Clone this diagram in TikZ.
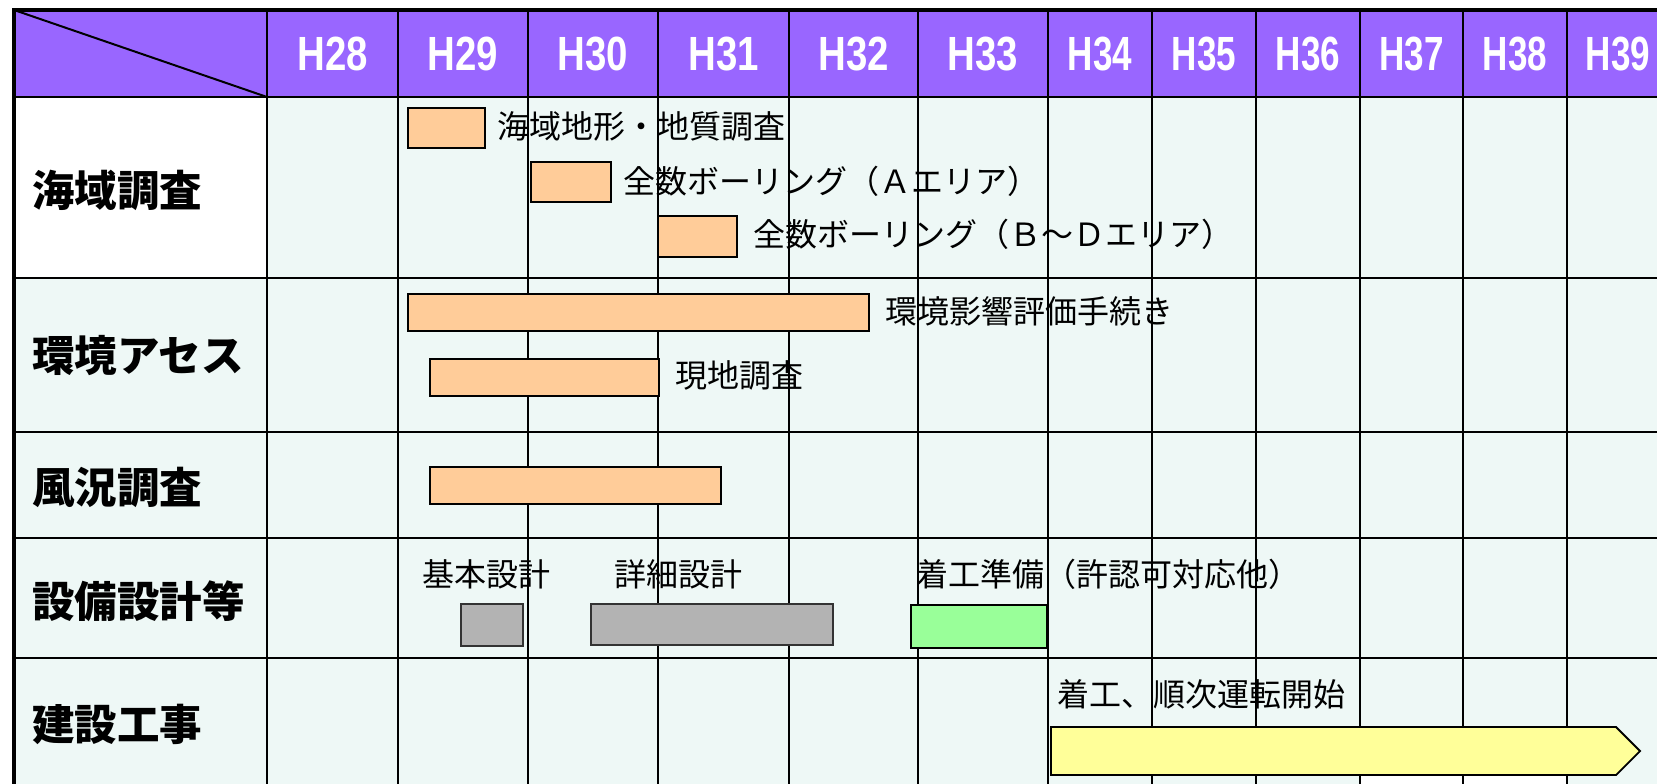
\documentclass[tikz,border=0pt]{standalone}
\usepackage{fontspec}
\newfontfamily\jp{Noto Sans CJK JP}
\newfontfamily\hd{Liberation Sans}
\definecolor{hdr}{RGB}{153,102,255}
\definecolor{cellc}{RGB}{238,248,246}
\definecolor{obarc}{RGB}{255,204,153}
\definecolor{gbarc}{RGB}{179,179,179}
\definecolor{grnc}{RGB}{153,255,153}
\definecolor{ylwc}{RGB}{255,255,153}
\tikzset{
  gridline/.style={draw=black, line width=2pt},
  hlab/.style={text=white, font=\hd\bfseries\fontsize{48}{48}\selectfont, inner sep=0pt, anchor=center},
  rlab/.style={text=black, font=\jp\bfseries\fontsize{42.5}{42.5}\selectfont, inner sep=0pt, anchor=west},
  blab/.style={text=black, font=\jp\fontsize{32}{32}\selectfont, inner sep=0pt, anchor=west},
  obar/.style={draw=black, line width=1.8pt, fill=obarc},
  gbar/.style={draw=black!80, line width=1.6pt, fill=gbarc},
  grbar/.style={draw=black, line width=1.8pt, fill=grnc},
  ybar/.style={draw=black, line width=1.8pt, fill=ylwc},
}
\begin{document}
\begin{tikzpicture}[x=1pt,y=-1pt]
\useasboundingbox (0,0) rectangle (1657,784);
\fill[white] (0,0) rectangle (1657,784);
% backgrounds
\fill[hdr] (14,10) rectangle (1657,97);
\fill[cellc] (14,97) rectangle (1657,784);
\fill[white] (14,97) rectangle (267,278);
\fill[white] (1360,775) rectangle (1567,784);
% grid
\foreach \x in {267,398,528,658,789,918,1048,1152,1256,1360,1463,1567}
  \draw[gridline] (\x,10) -- (\x,784);
\foreach \y in {97,278,432,538,658}
  \draw[gridline] (14,\y) -- (1657,\y);
\draw[line width=2pt] (14,10) -- (267,97);
% frame
\draw[line width=4pt] (14,784) -- (14,10) -- (1657,10);
% header labels
\node[hlab] (h28) at (332.5,54) {\scalebox{0.8}[1]{H28}};
\node[hlab] (h29) at (463,54) {\scalebox{0.8}[1]{H29}};
\node[hlab] (h30) at (593,54) {\scalebox{0.8}[1]{H30}};
\node[hlab] (h31) at (723.5,54) {\scalebox{0.8}[1]{H31}};
\node[hlab] (h32) at (853.5,54) {\scalebox{0.8}[1]{H32}};
\node[hlab] (h33) at (983,54) {\scalebox{0.8}[1]{H33}};
\node[hlab] (h34) at (1100,54) {\scalebox{0.73}[1]{H34}};
\node[hlab] (h35) at (1204,54) {\scalebox{0.73}[1]{H35}};
\node[hlab] (h36) at (1308,54) {\scalebox{0.73}[1]{H36}};
\node[hlab] (h37) at (1411.5,54) {\scalebox{0.73}[1]{H37}};
\node[hlab] (h38) at (1515,54) {\scalebox{0.73}[1]{H38}};
\node[hlab] (h39) at (1618,54) {\scalebox{0.73}[1]{H39}};
% row labels
\node[rlab] (r1) at (32,190) {海域調査};
\node[rlab] (r2) at (32,356) {環境アセス};
\node[rlab] (r3) at (32,487) {風況調査};
\node[rlab] (r4) at (32,601) {設備設計等};
\node[rlab] (r5) at (32,724) {建設工事};
% row 1 bars
\draw[obar] (408,108) rectangle (485,148);
\node[blab] (t1) at (497,126) {海域地形・地質調査};
\draw[obar] (531,162) rectangle (611,202);
\node[blab] (t2) at (623,181) {全数ボーリング（Ａエリア）};
\draw[obar] (658,216) rectangle (737,257);
\node[blab] (t3) at (753,234) {全数ボーリング（Ｂ～Ｄエリア）};
% row 2
\draw[obar] (408,294) rectangle (869,331);
\node[blab] (t4) at (885,311) {環境影響評価手続き};
\draw[obar] (430,359) rectangle (659,396);
\node[blab] (t5) at (675,375) {現地調査};
% row 3
\draw[obar] (430,467) rectangle (721,504);
% row 4
\node[blab] (t6) at (422,574) {基本設計};
\node[blab] (t7) at (614,574) {詳細設計};
\node[blab] (t8) at (916,574) {着工準備（許認可対応他）};
\draw[gbar] (461,604) rectangle (523,646);
\draw[gbar] (591,604) rectangle (833,645);
\draw[grbar] (911,605) rectangle (1047,648);
% row 5
\node[blab, font=\jp\fontsize{32}{32}\selectfont] (t9) at (1057,694) {着工、順次運転開始};
\draw[ybar] (1051,727) -- (1616,727) -- (1640,751) -- (1616,775) -- (1051,775) -- cycle;
\end{tikzpicture}
\end{document}
